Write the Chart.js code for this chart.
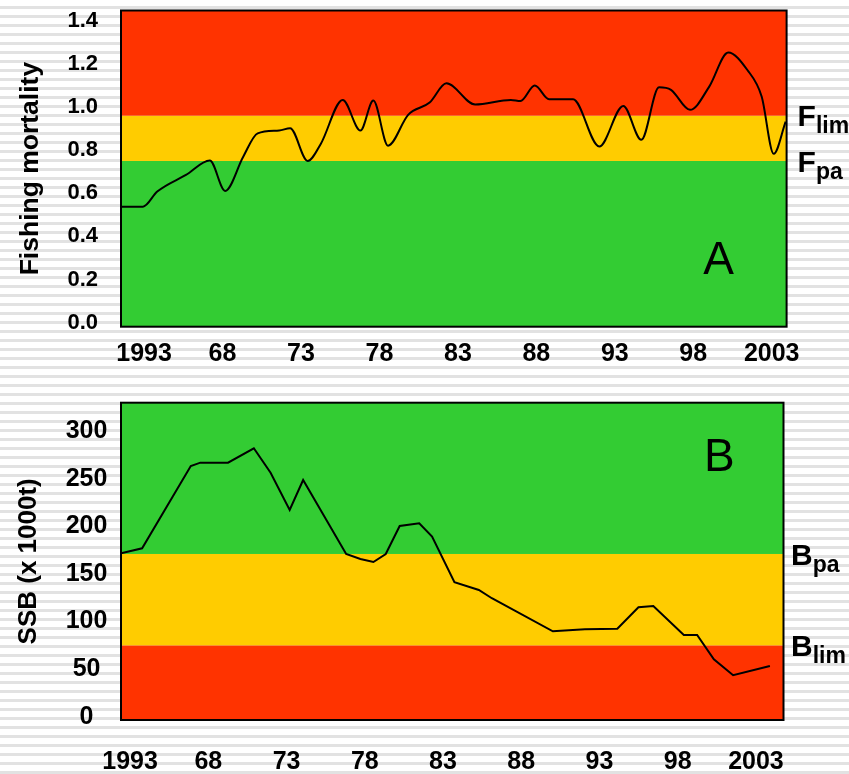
<!DOCTYPE html>
<html>
<head>
<meta charset="utf-8">
<title>Fishing mortality and SSB</title>
<script src="https://cdn.jsdelivr.net/npm/chart.js@4.4.1/dist/chart.umd.min.js"></script>
<style>
  html, body { margin: 0; padding: 0; }
  body {
    width: 849px; height: 774px; overflow: hidden; position: relative;
    background: repeating-linear-gradient(to bottom, #ffffff 0px, #ffffff 6px, #e2e2e2 6px, #e2e2e2 9px);
  }
  #wrapA { position: absolute; left: 0; top: 0; width: 849px; height: 375px; }
  #wrapB { position: absolute; left: 0; top: 380px; width: 849px; height: 394px; }
</style>
</head>
<body>
<div id="wrapA"><canvas id="chartA" width="849" height="375"></canvas></div>
<div id="wrapB"><canvas id="chartB" width="849" height="394"></canvas></div>
<script>
// --- axis ticks (the first label really reads "1993" on the original) ---
const tickYears = [1963, 1968, 1973, 1978, 1983, 1988, 1993, 1998, 2003];
const tickLabels = ['1993', '68', '73', '78', '83', '88', '93', '98', '2003'];
const fTicks = [0, 0.2, 0.4, 0.6, 0.8, 1.0, 1.2, 1.4];
const ssbTicks = [0, 50, 100, 150, 200, 250, 300];

// --- panel A: fishing mortality (smoothed curve) ---
const fYears = [1961.55, 1962.93, 1963.84, 1965.67, 1967.19, 1968.17, 1969.32, 1970.24, 1971.61, 1972.31,
  1973.43, 1974.26, 1975.66, 1976.79, 1977.61, 1978.55, 1979.83, 1981.20, 1982.27, 1984.10,
  1986.38, 1986.99, 1987.90, 1988.81, 1990.34, 1992.01, 1993.54, 1994.69, 1995.82, 1996.58,
  1997.80, 1999.02, 2000.23, 2001.45, 2002.36, 2003.13, 2003.89];
const fValues = [0.538, 0.538, 0.608, 0.685, 0.752, 0.611, 0.770, 0.878, 0.891, 0.902,
  0.750, 0.829, 1.033, 0.891, 1.030, 0.821, 0.964, 1.021, 1.110, 1.012,
  1.033, 1.028, 1.100, 1.036, 1.036, 0.817, 1.005, 0.848, 1.092, 1.080,
  0.987, 1.095, 1.253, 1.172, 1.049, 0.783, 0.932];
const fLim = 0.96;
const fPa = 0.75;

// --- panel B: spawning stock biomass (x 1000 t) ---
const ssbYears = [1962.42, 1963.77, 1966.88, 1967.49, 1969.26, 1970.91, 1971.98, 1973.20, 1974.06, 1976.81,
  1977.72, 1978.55, 1979.34, 1980.23, 1981.48, 1982.30, 1983.73, 1985.29, 1986.12, 1990.02,
  1992.07, 1994.14, 1995.49, 1996.44, 1998.39, 1999.24, 2000.31, 2001.54, 2003.89];
const ssbValues = [171.7, 177.0, 263.4, 266.9, 266.9, 282.0, 256.4, 217.2, 248.7, 171.0,
  165.8, 162.6, 171.0, 200.4, 203.3, 189.2, 141.3, 133.2, 124.5, 89.8,
  91.9, 92.5, 115.0, 116.4, 85.9, 85.9, 60.4, 43.6, 53.4];
const bPa = 171;
const bLim = 75;

const RED = '#ff3300', YELLOW = '#ffcc00', GREEN = '#33cc33';
const FONT = "'Liberation Sans', Arial, sans-serif";
const NARROW = "'Liberation Sans Narrow', 'Liberation Sans', Arial, sans-serif";

// coloured zones, frame, reference-point labels and the panel letter
const zonesPlugin = {
  id: 'zones',
  beforeDatasetsDraw(chart, args, opts) {
    const { ctx, chartArea: a } = chart;
    const y = chart.scales.y;
    ctx.save();
    opts.bands.forEach(b => {
      const top = Math.max(a.top, y.getPixelForValue(b.to));
      const bot = Math.min(a.bottom, y.getPixelForValue(b.from));
      ctx.fillStyle = b.color;
      ctx.fillRect(a.left, top, a.right - a.left, bot - top);
    });
    ctx.restore();
  },
  afterDatasetsDraw(chart, args, opts) {
    const { ctx, chartArea: a } = chart;
    const x = chart.scales.x, y = chart.scales.y;
    ctx.save();
    ctx.strokeStyle = '#000';
    ctx.lineWidth = 2;
    ctx.strokeRect(a.left, a.top, a.right - a.left, a.bottom - a.top);

    ctx.fillStyle = '#000';
    ctx.textAlign = 'left';
    ctx.textBaseline = 'alphabetic';
    opts.refs.forEach(r => {
      const yp = y.getPixelForValue(r.value);
      const base = yp + 30 * 0.716 / 2;
      const x0 = a.right + opts.gap;
      ctx.font = 'bold 30px ' + FONT;
      ctx.fillText(r.main, x0, base);
      const w = ctx.measureText(r.main).width;
      ctx.font = 'bold 23px ' + NARROW;
      ctx.fillText(r.sub, x0 + w, base + 7);
    });

    ctx.font = '46px ' + FONT;
    ctx.textAlign = 'center';
    ctx.textBaseline = 'middle';
    ctx.fillText(opts.letter.text, x.getPixelForValue(opts.letter.x), y.getPixelForValue(opts.letter.y));
    ctx.restore();
  }
};

function xAxis(min, max, height, pad) {
  return {
    type: 'linear', min: min, max: max,
    afterBuildTicks: axis => { axis.ticks = tickYears.map(v => ({ value: v })); },
    afterFit: axis => {
      axis.height = height;
      axis.paddingLeft = 0;
      axis.paddingRight = 0;
    },
    ticks: {
      callback: (v, i) => tickLabels[i],
      font: { family: FONT, size: 25, weight: 'bold' },
      color: '#000', padding: pad, maxRotation: 0, autoSkip: false
    },
    grid: { display: false, drawTicks: false },
    border: { display: false }
  };
}

function yAxis(min, max, ticks, fmt, fontSize, pad, align, title, titleSize, titlePad) {
  return {
    type: 'linear', min: min, max: max,
    afterBuildTicks: axis => { axis.ticks = ticks.map(v => ({ value: v })); },
    afterFit: axis => {
      axis.width = 121;
      axis.paddingTop = 0;
      axis.paddingBottom = 0;
    },
    ticks: {
      callback: fmt,
      font: { family: FONT, size: fontSize, weight: 'bold' },
      color: '#000', padding: pad, crossAlign: align
    },
    grid: { display: false, drawTicks: false },
    border: { display: false },
    title: {
      display: true, text: title, color: '#000',
      font: { family: FONT, size: titleSize, weight: 'bold' },
      padding: { top: titlePad, bottom: 0 }
    }
  };
}

new Chart(document.getElementById('chartA'), {
  type: 'line',
  data: {
    datasets: [{
      data: fYears.map((yr, i) => ({ x: yr, y: fValues[i] })),
      borderColor: '#000', borderWidth: 2, pointRadius: 0,
      cubicInterpolationMode: 'monotone', fill: false
    }]
  },
  options: {
    responsive: false, animation: false,
    layout: { padding: { top: 10.5, right: 62.4, bottom: 0, left: 0 } },
    scales: {
      x: xAxis(1961.53, 2003.95, 48.3, 12),
      y: yAxis(-0.019, 1.448, fTicks, v => v.toFixed(1), 22, 23, 'near', 'Fishing mortality', 26.5, 15)
    },
    plugins: {
      legend: { display: false }, tooltip: { enabled: false },
      zones: {
        bands: [
          { from: -10, to: fPa, color: GREEN },
          { from: fPa, to: fLim, color: YELLOW },
          { from: fLim, to: 10, color: RED }
        ],
        refs: [{ value: fLim, main: 'F', sub: 'lim' }, { value: fPa, main: 'F', sub: 'pa' }],
        gap: 11,
        letter: { text: 'A', x: 1999.62, y: 0.284 }
      }
    }
  },
  plugins: [zonesPlugin]
});

new Chart(document.getElementById('chartB'), {
  type: 'line',
  data: {
    datasets: [{
      data: ssbYears.map((yr, i) => ({ x: yr, y: ssbValues[i] })),
      borderColor: '#000', borderWidth: 2, pointRadius: 0,
      tension: 0, fill: false
    }]
  },
  options: {
    responsive: false, animation: false,
    layout: { padding: { top: 22.7, right: 65.5, bottom: 0, left: 0 } },
    scales: {
      x: xAxis(1962.42, 2004.76, 54, 27),
      y: yAxis(-3.4, 329.9, ssbTicks, v => String(v), 25, 13.6, 'center', 'SSB (x 1000t)', 26, 13)
    },
    plugins: {
      legend: { display: false }, tooltip: { enabled: false },
      zones: {
        bands: [
          { from: -1000, to: bLim, color: RED },
          { from: bLim, to: bPa, color: YELLOW },
          { from: bPa, to: 1000, color: GREEN }
        ],
        refs: [{ value: bPa, main: 'B', sub: 'pa' }, { value: bLim, main: 'B', sub: 'lim' }],
        gap: 7.5,
        letter: { text: 'B', x: 2000.66, y: 272 }
      }
    }
  },
  plugins: [zonesPlugin]
});
</script>
</body>
</html>
